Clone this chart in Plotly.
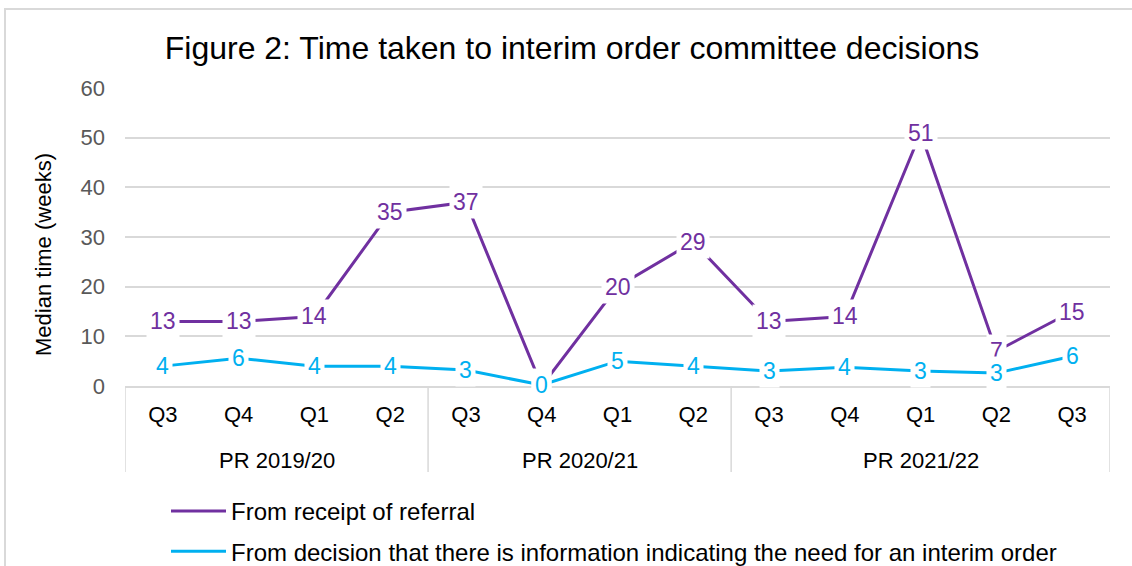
import plotly.graph_objects as go

years = ["PR 2019/20"] * 4 + ["PR 2020/21"] * 4 + ["PR 2021/22"] * 5
quarters = ["Q3", "Q4", "Q1", "Q2", "Q3", "Q4", "Q1", "Q2", "Q3", "Q4", "Q1", "Q2", "Q3"]
referral = [13, 13, 14, 35, 37, 0, 20, 29, 13, 14, 51, 7, 15]
decision = [4.0, 5.6, 4.0, 4.0, 3.2, 0.2, 5.0, 4.0, 3.0, 3.8, 3.0, 2.6, 6.0]
y_title = "Median time (weeks)"

PURPLE = "#7030A0"
CYAN = "#00B0F0"
GRID = "#D9D9D9"
FONT = "Liberation Sans, Arial, sans-serif"

W, H = 1132, 566
L, R, T, B = 125, 22, 88, 180
plot_w = W - L - R
plot_h = H - T - B

idx = list(range(len(quarters)))

fig = go.Figure()
fig.add_trace(go.Scatter(x=idx, y=referral, mode="lines",
                         name="From receipt of referral", legendgroup="a",
                         line=dict(color=PURPLE, width=3)))
fig.add_trace(go.Scatter(x=idx, y=decision, mode="lines",
                         name="From decision that there is information indicating the need for an interim order",
                         legendgroup="b", line=dict(color=CYAN, width=3)))

for series, color in [(referral, PURPLE), (decision, CYAN)]:
    for i, v in zip(idx, series):
        fig.add_annotation(x=i, y=v, xref="x", yref="y", text=f"{round(v)}",
                           showarrow=False, bgcolor="white",
                           font=dict(color=color, size=23, family=FONT),
                           borderpad=3)

# year group labels and dividers derived from the year list
groups = []
for i, yr in enumerate(years):
    if not groups or groups[-1][0] != yr:
        groups.append([yr, i, i])
    else:
        groups[-1][2] = i
for yr, s, e in groups:
    fig.add_annotation(x=(s + e) / 2, y=-(460 - 386) / plot_h, xref="x", yref="paper",
                       text=yr, showarrow=False, yanchor="middle",
                       font=dict(size=22, color="#000000", family=FONT))
bounds = [g[1] - 0.5 for g in groups] + [groups[-1][2] + 0.5]
for b in bounds:
    fig.add_shape(type="line", xref="x", yref="paper", x0=b, x1=b,
                  y0=0, y1=-(472 - 386) / plot_h, line=dict(color=GRID, width=1.5))

# y axis title
fig.add_annotation(x=(43 - L) / plot_w, y=(386 - 255) / plot_h, xref="paper", yref="paper",
                   text=y_title, textangle=-90, showarrow=False,
                   xanchor="center", yanchor="middle",
                   font=dict(size=22, color="#000000", family=FONT))

# outer chart border
fig.add_shape(type="rect", xref="paper", yref="paper",
              x0=(5 - L) / plot_w, x1=(1150 - L) / plot_w,
              y0=(386 - 590) / plot_h, y1=(386 - 9) / plot_h,
              line=dict(color=GRID, width=2), layer="below")

fig.update_layout(
    width=W, height=H,
    margin=dict(l=L, r=R, t=T, b=B, autoexpand=False),
    paper_bgcolor="white", plot_bgcolor="white",
    font=dict(family=FONT, color="#000000"),
    title=dict(text="Figure 2: Time taken to interim order committee decisions",
               x=572 / W, xanchor="center", y=1 - 48 / H, yanchor="middle",
               font=dict(size=32, color="#000000", family=FONT)),
    showlegend=True,
    legend=dict(orientation="v", x=(166 - L) / plot_w, xanchor="left",
                y=-(489 - 386) / plot_h, yanchor="top",
                tracegroupgap=6, traceorder="grouped", borderwidth=0,
                font=dict(size=24, color="#000000", family=FONT), itemwidth=55),
    yaxis=dict(range=[0, 60], dtick=10, showgrid=True, gridcolor=GRID, gridwidth=1.5,
               zeroline=False, showline=False, ticks="", automargin=False,
               ticklabelstandoff=19,
               tickfont=dict(size=22, color="#595959", family=FONT)),
    xaxis=dict(range=[-0.5, len(quarters) - 0.5], tickvals=idx, ticktext=quarters,
               showline=True, linecolor=GRID, linewidth=1.5, automargin=False,
               ticks="", ticklabelstandoff=8,
               tickfont=dict(size=22, color="#000000", family=FONT),
               showgrid=False, zeroline=False),
)

fig.write_html("out.html", config={"displayModeBar": False},
               post_script="document.body.style.margin='0';")
